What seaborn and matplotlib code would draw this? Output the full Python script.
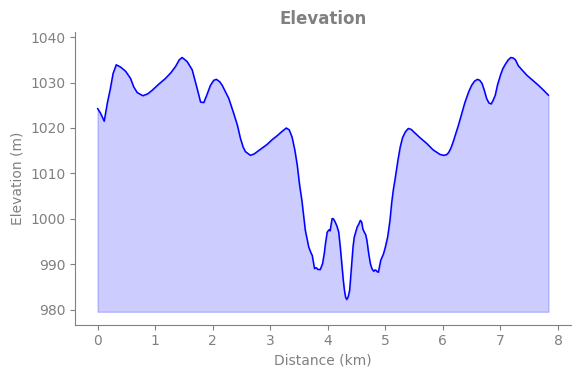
import matplotlib
matplotlib.use("Agg")
import matplotlib.pyplot as plt
import seaborn as sns
import numpy as np
import pandas as pd

distance_km = [
    0.00, 0.05, 0.116, 0.17, 0.22, 0.27, 0.325, 0.40, 0.486, 0.573, 0.63, 0.689,
    0.787, 0.87, 0.949, 1.06, 1.18, 1.27, 1.354, 1.42, 1.47, 1.557, 1.644, 1.73,
    1.79, 1.846, 1.90, 1.962, 2.02, 2.066, 2.12, 2.165, 2.28, 2.366, 2.43, 2.483,
    2.53, 2.57, 2.656, 2.72, 2.773, 2.86, 2.946, 3.03, 3.12, 3.20, 3.28, 3.33,
    3.38, 3.43, 3.47, 3.51, 3.55, 3.61, 3.67, 3.71, 3.73, 3.77, 3.80, 3.83,
    3.87, 3.91, 3.94, 3.96, 3.99, 4.02, 4.04, 4.076, 4.10, 4.13, 4.16, 4.19,
    4.22, 4.25, 4.27, 4.29, 4.31, 4.33, 4.355, 4.38, 4.40, 4.42, 4.44, 4.46,
    4.51, 4.54, 4.566, 4.59, 4.61, 4.635, 4.66, 4.68, 4.71, 4.74, 4.77, 4.80,
    4.82, 4.84, 4.86, 4.88, 4.90, 4.92, 4.97, 5.00, 5.04, 5.08, 5.11, 5.14,
    5.17, 5.22, 5.26, 5.30, 5.35, 5.40, 5.45, 5.49, 5.60, 5.72, 5.83, 5.95,
    6.01, 6.06, 6.10, 6.14, 6.18, 6.27, 6.38, 6.45, 6.50, 6.55, 6.60, 6.64,
    6.68, 6.72, 6.76, 6.80, 6.84, 6.87, 6.91, 6.95, 7.00, 7.04, 7.08, 7.13,
    7.18, 7.22, 7.26, 7.31, 7.38, 7.46, 7.56, 7.66, 7.75, 7.835,
]
elevation_m = [
    1024.3, 1023.3, 1021.5, 1025.5, 1028.5, 1032.0, 1033.9, 1033.4, 1032.5, 1030.9, 1029.0, 1027.8,
    1027.1, 1027.5, 1028.3, 1029.6, 1030.9, 1032.1, 1033.5, 1035.0, 1035.5, 1034.6, 1032.8, 1028.7,
    1025.7, 1025.6, 1027.3, 1029.4, 1030.5, 1030.7, 1030.2, 1029.4, 1026.5, 1023.2, 1020.6, 1017.7,
    1015.8, 1014.8, 1014.0, 1014.3, 1014.8, 1015.6, 1016.4, 1017.4, 1018.3, 1019.2, 1020.0, 1019.6,
    1018.0, 1015.0, 1011.8, 1007.5, 1004.1, 997.5, 993.8, 992.5, 992.0, 989.1, 989.3, 988.9,
    988.9, 990.2, 992.5, 994.6, 997.1, 997.6, 997.4, 1000.1, 1000.0, 999.3, 998.4, 997.1,
    993.5, 989.4, 986.5, 984.3, 982.8, 982.3, 982.9, 984.3, 987.5, 990.9, 994.0, 996.0,
    998.2, 998.9, 999.7, 999.3, 997.8, 997.1, 996.5, 995.3, 992.5, 990.2, 989.0, 988.5,
    988.8, 988.7, 988.4, 988.3, 989.6, 990.9, 992.4, 993.8, 996.0, 999.6, 1003.5, 1006.5,
    1008.8, 1013.0, 1015.9, 1017.9, 1019.2, 1019.9, 1019.7, 1019.2, 1017.9, 1016.6, 1015.2, 1014.2,
    1014.0, 1014.1, 1014.6, 1015.6, 1017.0, 1020.6, 1025.5, 1028.0, 1029.4, 1030.3, 1030.7, 1030.5,
    1029.8, 1028.3, 1026.5, 1025.5, 1025.3, 1026.0, 1027.2, 1029.5, 1031.6, 1033.0, 1033.9, 1034.9,
    1035.5, 1035.4, 1035.0, 1033.7, 1032.7, 1031.6, 1030.5, 1029.4, 1028.3, 1027.2,
]

title = "Elevation"
xlabel = "Distance (km)"
ylabel = "Elevation (m)"

df = pd.DataFrame({"dist": distance_km, "elev": elevation_m})

sns.set_style("ticks")
GRAY = "#808080"
plt.rcParams.update({
    "font.family": ["DejaVu Sans"],
    "text.color": GRAY,
    "axes.labelcolor": GRAY,
    "xtick.color": GRAY,
    "ytick.color": GRAY,
    "axes.edgecolor": GRAY,
})

fig, ax = plt.subplots(figsize=(5.8, 3.78), dpi=100)
fig.subplots_adjust(left=0.1293, right=0.9845, top=0.9153, bottom=0.1415)

base = df["elev"].min() - 2.7
ax.fill_between(df["dist"], df["elev"], base, color="blue", alpha=0.2)
sns.lineplot(data=df, x="dist", y="elev", color="blue", linewidth=1.1, ax=ax)

ax.set_ylim(976.8, 1041.1)
ax.set_yticks([980, 990, 1000, 1010, 1020, 1030, 1040])
ax.set_xticks(range(0, 9))
ax.set_title(title, fontsize=12, fontweight="bold", color=GRAY)
ax.set_xlabel(xlabel, fontsize=10)
ax.set_ylabel(ylabel, fontsize=10)
ax.tick_params(labelsize=10)
sns.despine(ax=ax)

fig.savefig("out.png", dpi=100)
